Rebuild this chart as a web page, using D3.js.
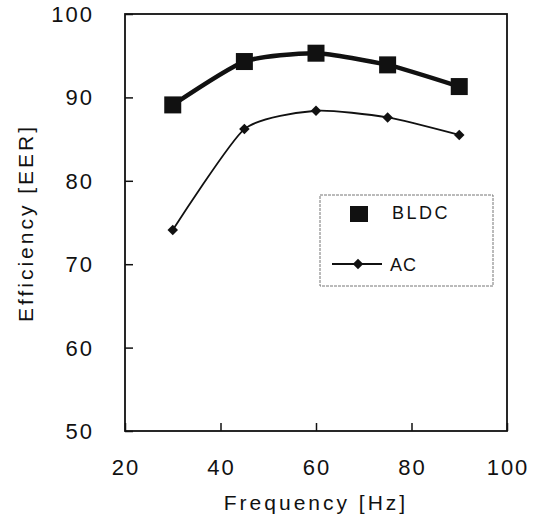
<!DOCTYPE html>
<html>
<head>
<meta charset="utf-8">
<script src="https://cdn.jsdelivr.net/npm/d3@7"></script>
<style>
  body { margin: 0; background: #fff; }
  text { font-family: "Liberation Sans", Arial, sans-serif; fill: #111; }
</style>
</head>
<body>
<div id="chart"></div>
<script>
// data
var frequency = [30, 45, 60, 75, 90];
var bldc = [89.1, 94.3, 95.3, 93.9, 91.3];
var ac = [74.1, 86.2, 88.4, 87.6, 85.5];
var xTicks = [20, 40, 60, 80, 100];
var yTicks = [50, 60, 70, 80, 90, 100];

var W = 544, H = 516;
var plotL = 125, plotR = 507, plotT = 14, plotB = 431;

var svg = d3.select("#chart").append("svg")
    .attr("width", W)
    .attr("height", H);

var x = d3.scaleLinear().domain([20, 100]).range([plotL, plotR]);
var y = d3.scaleLinear().domain([50, 100]).range([plotB, plotT]);

// frame
svg.append("rect")
    .attr("x", plotL).attr("y", plotT)
    .attr("width", plotR - plotL).attr("height", plotB - plotT)
    .style("fill", "none")
    .style("stroke", "#111")
    .style("stroke-width", 1.8);

// axes, ticks drawn inward
var xAxis = svg.append("g")
    .attr("transform", "translate(0," + plotB + ")")
    .call(d3.axisTop(x).tickValues(xTicks).tickSize(8).tickFormat(""));
var yAxis = svg.append("g")
    .attr("transform", "translate(" + plotL + ",0)")
    .call(d3.axisRight(y).tickValues(yTicks).tickSize(8).tickFormat(""));
[xAxis, yAxis].forEach(function(a) {
    a.select(".domain").remove();
    a.selectAll("line").style("stroke", "#111").style("stroke-width", 1.5);
});

// tick labels
svg.selectAll("text.xlab")
    .data(xTicks).enter().append("text")
    .attr("class", "xlab")
    .attr("x", function(d) { return x(d) + 1; })
    .attr("y", 475)
    .attr("text-anchor", "middle")
    .style("font-size", "22px")
    .style("letter-spacing", "2px")
    .text(function(d) { return d; });

svg.selectAll("text.ylab")
    .data(yTicks).enter().append("text")
    .attr("class", "ylab")
    .attr("x", 94)
    .attr("y", function(d) { return y(d) + 8; })
    .attr("text-anchor", "end")
    .style("font-size", "22px")
    .style("letter-spacing", "2px")
    .text(function(d) { return d; });

// axis titles
svg.append("text")
    .attr("x", 316).attr("y", 510)
    .attr("text-anchor", "middle")
    .style("font-size", "21px")
    .style("letter-spacing", "3px")
    .text("Frequency [Hz]");

svg.append("text")
    .attr("transform", "translate(33,223) rotate(-90)")
    .attr("text-anchor", "middle")
    .style("font-size", "21px")
    .style("letter-spacing", "3px")
    .text("Efficiency [EER]");

var line = d3.line()
    .x(function(d) { return x(d[0]); })
    .y(function(d) { return y(d[1]); })
    .curve(d3.curveCardinal.tension(0.4));

var bldcPts = d3.zip(frequency, bldc);
var acPts = d3.zip(frequency, ac);

svg.append("path")
    .datum(bldcPts)
    .attr("d", line)
    .style("fill", "none")
    .style("stroke", "#111")
    .style("stroke-width", 4.5);

svg.append("path")
    .datum(acPts)
    .attr("d", line)
    .style("fill", "none")
    .style("stroke", "#111")
    .style("stroke-width", 1.8);

var sq = 17;
svg.selectAll("rect.bldc")
    .data(bldcPts).enter().append("rect")
    .attr("class", "bldc")
    .attr("x", function(d) { return x(d[0]) - sq / 2; })
    .attr("y", function(d) { return y(d[1]) - sq / 2; })
    .attr("width", sq).attr("height", sq)
    .style("fill", "#111");

var diamond = d3.symbol().type(d3.symbolDiamond2).size(70);
svg.selectAll("path.ac")
    .data(acPts).enter().append("path")
    .attr("class", "ac")
    .attr("transform", function(d) { return "translate(" + x(d[0]) + "," + y(d[1]) + ")"; })
    .attr("d", diamond)
    .style("fill", "#111");

// legend
var lg = svg.append("g");
lg.append("rect")
    .attr("x", 320).attr("y", 195)
    .attr("width", 173).attr("height", 91)
    .style("fill", "#fff")
    .style("stroke", "#777")
    .style("stroke-width", 1)
    .style("stroke-dasharray", "3,1");
lg.append("rect")
    .attr("x", 350).attr("y", 206)
    .attr("width", 18).attr("height", 16)
    .style("fill", "#111");
lg.append("text")
    .attr("x", 392).attr("y", 219)
    .style("font-size", "18px")
    .style("letter-spacing", "2.5px")
    .text("BLDC");
lg.append("line")
    .attr("x1", 332).attr("x2", 382)
    .attr("y1", 264).attr("y2", 264)
    .style("stroke", "#111")
    .style("stroke-width", 1.8);
lg.append("path")
    .attr("transform", "translate(358,264)")
    .attr("d", diamond)
    .style("fill", "#111");
lg.append("text")
    .attr("x", 390).attr("y", 271)
    .style("font-size", "18px")
    .style("letter-spacing", "1px")
    .text("AC");
</script>
</body>
</html>
